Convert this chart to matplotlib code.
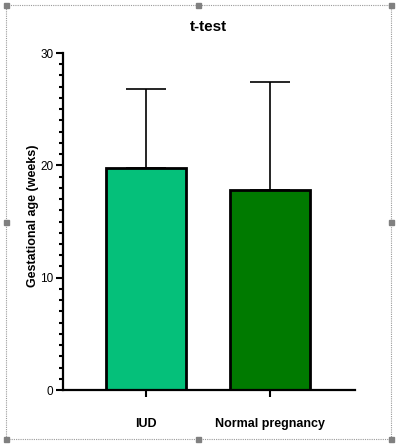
import matplotlib
matplotlib.use('Agg')
import matplotlib.pyplot as plt
from matplotlib.patches import Rectangle
from matplotlib.ticker import MultipleLocator

plt.rcParams['font.family'] = ['Liberation Sans', 'DejaVu Sans']

#Chart data
groups = ['IUD', 'Normal pregnancy']
means = [19.75, 17.8]
sds = [7.05, 9.6]
colors = ['#05C07A', '#007A00']

fig = plt.figure(figsize=(3.99, 4.47), dpi=100)

#Dotted frame with grey handles, like the editor selection box
bg = fig.add_axes([0, 0, 1, 1], zorder=-1)
bg.set_xlim(0, 399)
bg.set_ylim(447, 0)
bg.axis('off')
bg.add_patch(Rectangle((6, 5), 385, 434, fill=False, edgecolor='#9a9a9a',
                       linestyle=(0, (1, 1)), linewidth=0.8))
for hx in [6, 198, 391]:
    for hy in [5, 222, 439]:
        if hx == 198 and hy == 222:
            continue
        bg.add_patch(Rectangle((hx - 2.5, hy - 2.5), 5, 5, color='#808080'))

ax = fig.add_axes([0.158, 0.1275, 0.732, 0.7539])
x = [0, 1]
ax.bar(x, means, width=0.645, color=colors, edgecolor='black', linewidth=2, zorder=2)
ax.errorbar(x, means, yerr=[[0, 0], sds], fmt='none', ecolor='black',
            elinewidth=1.2, capsize=14.5, capthick=1.2, zorder=1)

ax.set_xlim(-0.669, 1.685)
ax.set_ylim(0, 30)
ax.set_xticks(x)
ax.set_xticklabels(groups, fontweight='bold', fontsize=9)
ax.yaxis.set_major_locator(MultipleLocator(10))
ax.yaxis.set_minor_locator(MultipleLocator(1))
ax.tick_params(axis='y', which='major', length=5, width=1.5, labelsize=8.5, pad=2)
ax.tick_params(axis='y', which='minor', length=3, width=1.5)
ax.tick_params(axis='x', which='major', length=5, width=1.5, pad=15)

for side in ['top', 'right']:
    ax.spines[side].set_visible(False)
for side in ['left', 'bottom']:
    ax.spines[side].set_linewidth(1.6)

ax.set_ylabel('Gestational age (weeks)', fontsize=9, fontweight='bold', va='center')
ax.yaxis.set_label_coords(-0.1045, 0.518)
fig.text(0.522, 0.94, 't-test', ha='center', va='center', fontsize=11, fontweight='bold')

fig.savefig('out.png', dpi=100)
